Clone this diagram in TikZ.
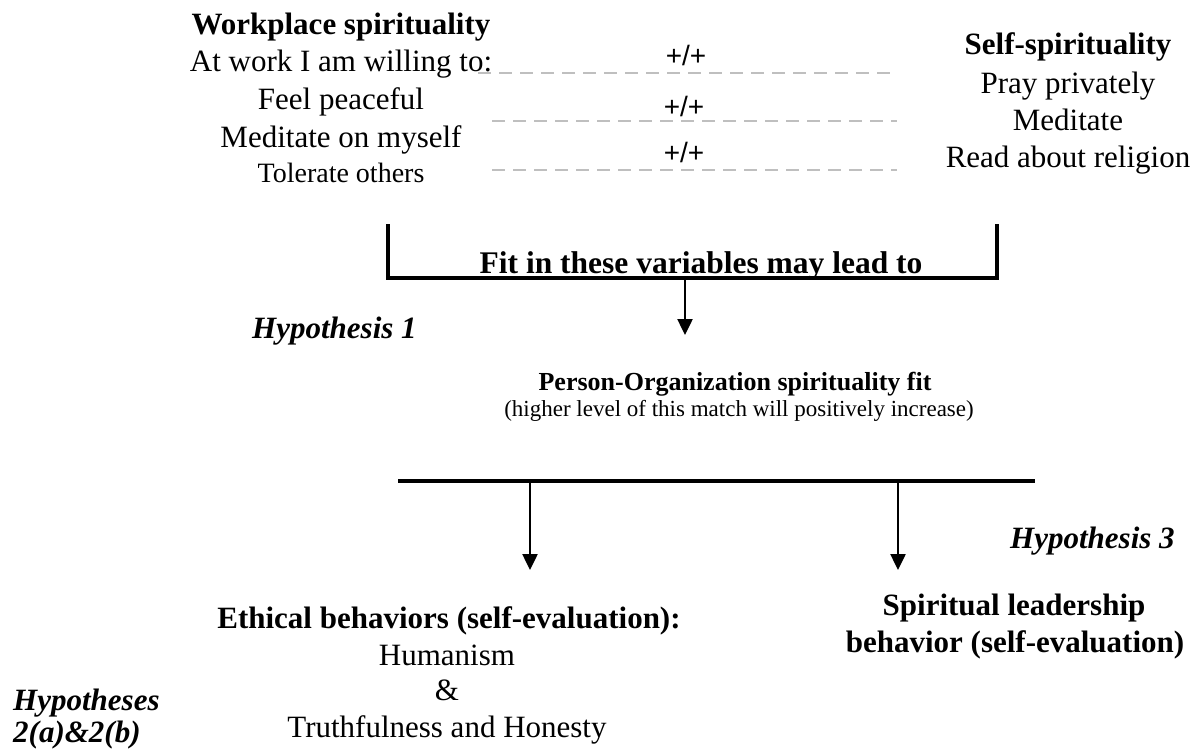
\documentclass[tikz,border=0pt]{standalone}
\usepackage{fontspec}
\setmainfont{Liberation Serif}
\newfontfamily\arialf{Liberation Sans}
\usetikzlibrary{arrows.meta}
\newcommand{\fsz}[1]{\fontsize{#1}{#1}\selectfont}
\begin{document}
\begin{tikzpicture}[x=1pt,y=-1pt,
  txt/.style={inner sep=0pt,anchor=base,font=\fsz{31}},
  bld/.style={txt,font=\fsz{31}\bfseries},
  hyp/.style={inner sep=0pt,anchor=base west,font=\fsz{31}\bfseries\itshape},
  pp/.style={inner sep=0pt,anchor=center,font=\arialf\fsz{28}},
  dashline/.style={draw=black!25,line width=2pt,dash pattern=on 13pt off 8pt},
  bar/.style={draw=black,line width=3.2pt},
  arr/.style={draw=black,line width=2.5pt,-{Triangle[width=15pt,length=16pt]}}]
\useasboundingbox (0,0) rectangle (1197,752);
% left column
\node[bld] (wsT) at (341,35) {Workplace spirituality};
\node[txt] (ws1) at (341,72) {At work I am willing to:};
\node[txt] (ws2) at (341,110) {Feel peaceful};
\node[txt] (ws3) at (341,147) {Meditate on myself};
\node[txt,font=\fsz{28}] (ws4) at (341,182) {Tolerate others};
% right column
\node[bld] (ssT) at (1068,55) {Self-spirituality};
\node[txt] (ss1) at (1068,93) {Pray privately};
\node[txt] (ss2) at (1068,130) {Meditate};
\node[txt] (ss3) at (1068,167) {Read about religion};
% links
\node[pp] (p1) at (686,55) {+/+};
\node[pp] (p2) at (684,106) {+/+};
\node[pp] (p3) at (684,152) {+/+};
\coordinate (d1a) at (478,73);  \coordinate (d1b) at (897,73);
\coordinate (d2a) at (492,121); \coordinate (d2b) at (897,121);
\coordinate (d3a) at (492,170); \coordinate (d3b) at (897,170);
\draw[dashline] (d1a) -- (d1b);
\draw[dashline] (d2a) -- (d2b);
\draw[dashline] (d3a) -- (d3b);
% bracket
\coordinate (bl) at (388,224); \coordinate (blb) at (388,278);
\coordinate (br) at (997,224); \coordinate (brb) at (997,278);
\draw[bar] (bl) -- (blb) -- (brb) -- (br);
\node[bld,font=\fsz{31.5}\bfseries] (fit) at (701,273) {Fit in these variables may lead to};
\coordinate (a1s) at (685,278); \coordinate (a1e) at (685,335);
\draw[arr] (a1s) -- (a1e);
\node[hyp] (h1) at (252,338) {Hypothesis 1};
% P-O fit
\node[txt,font=\fsz{26}\bfseries] (po) at (735,390) {Person-Organization spirituality fit};
\node[txt,font=\fsz{23}] (posub) at (739,416) {(higher level of this match will positively increase)};
% second bar
\coordinate (l2a) at (398,481); \coordinate (l2b) at (1035,481);
\draw[bar] (l2a) -- (l2b);
\coordinate (a2s) at (530,481); \coordinate (a2e) at (530,570);
\coordinate (a3s) at (898,481); \coordinate (a3e) at (898,570);
\draw[arr] (a2s) -- (a2e);
\draw[arr] (a3s) -- (a3e);
\node[hyp] (h3) at (1010,548) {Hypothesis 3};
% ethical
\node[bld] (eth) at (449,628) {Ethical behaviors (self-evaluation):};
\node[txt] (hum) at (447,665) {Humanism};
\node[txt] (amp) at (447,700) {\&};
\node[txt] (tru) at (447,737) {Truthfulness and Honesty};
% spiritual leadership
\node[bld] (sl1) at (1014,615) {Spiritual leadership};
\node[bld] (sl2) at (1015,652) {behavior (self-evaluation)};
% hypotheses 2
\node[hyp] (h2a) at (13,710) {Hypotheses};
\node[hyp] (h2b) at (13,742) {2(a)\&2(b)};
\end{tikzpicture}
\end{document}
